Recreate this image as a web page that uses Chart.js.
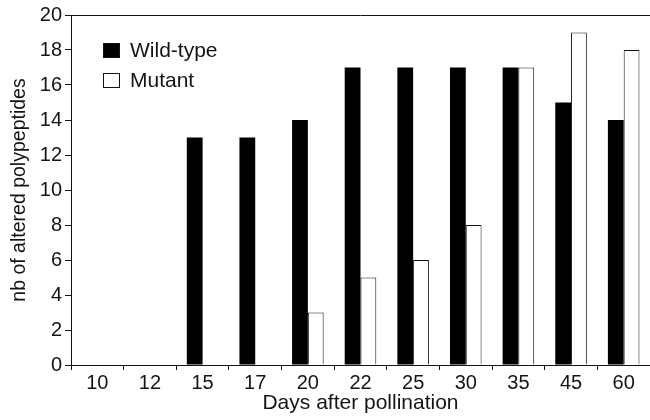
<!DOCTYPE html>
<html>
<head>
<meta charset="utf-8">
<script src="https://cdn.jsdelivr.net/npm/chart.js@4"></script>
<style>
  html, body { margin: 0; padding: 0; background: #fff; }
  #wrap { width: 650px; height: 420px; }
</style>
</head>
<body>
<div id="wrap"><canvas id="myChart" width="650" height="420"></canvas></div>
<script>
// Dias despues de la polinizacion
const days = ['10', '12', '15', '17', '20', '22', '25', '30', '35', '45', '60']
const wildType = [0, 0, 13, 13, 14, 17, 17, 17, 17, 15, 14]
const mutant = [0, 0, 0, 0, 3, 5, 6, 8, 17, 19, 18]
const yTicks = [0, 2, 4, 6, 8, 10, 12, 14, 16, 18, 20]

const ink = '#141414'
const font = "'Liberation Sans', Arial, sans-serif"

// Leyenda dentro del grafico y linea superior
const extras = {
  id: 'extras',
  afterDraw (chart) {
    const { ctx, chartArea } = chart
    ctx.save()
    ctx.strokeStyle = ink
    ctx.lineWidth = 1
    ctx.beginPath()
    ctx.moveTo(chartArea.left, chartArea.top + 0.5)
    ctx.lineTo(chartArea.right, chartArea.top + 0.5)
    ctx.stroke()

    ctx.font = '21px ' + font
    ctx.textBaseline = 'middle'
    chart.data.datasets.forEach((ds, i) => {
      const y = 50 + i * 30
      ctx.fillStyle = ds.backgroundColor
      ctx.fillRect(103, y - 7, 17, 15)
      ctx.strokeStyle = ink
      ctx.strokeRect(103.5, y - 6.5, 16, 14)
      ctx.fillStyle = ink
      ctx.fillText(ds.label, 130, y + 1)
    })
    ctx.restore()
  }
}

const config = {
  type: 'bar',
  data: {
    labels: days,
    datasets: [
      {
        label: 'Wild-type',
        data: wildType,
        backgroundColor: '#000000',
        borderColor: '#000000',
        borderWidth: 0
      },
      {
        label: 'Mutant',
        data: mutant,
        backgroundColor: '#ffffff',
        borderColor: ink,
        borderWidth: 1
      }
    ]
  },
  options: {
    responsive: false,
    animation: false,
    layout: { padding: { top: 15, right: 0, left: 0, bottom: 0 } },
    datasets: {
      bar: { barPercentage: 1, categoryPercentage: 0.6 }
    },
    plugins: {
      legend: { display: false },
      tooltip: { enabled: false }
    },
    scales: {
      x: {
        grid: { display: true, drawOnChartArea: false, drawTicks: true, tickLength: 5, color: ink },
        border: { color: ink, width: 1 },
        ticks: { color: ink, font: { family: font, size: 20 }, padding: 1, maxRotation: 0 },
        title: { display: true, text: 'Days after pollination', color: ink, font: { family: font, size: 21 }, padding: { top: 0, bottom: 4 } },
        afterFit (scale) { scale.height = 55 }
      },
      y: {
        min: 0,
        max: 20,
        afterBuildTicks (scale) { scale.ticks = yTicks.map(v => ({ value: v })) },
        grid: { display: true, drawOnChartArea: false, drawTicks: true, tickLength: 6, color: ink },
        border: { color: ink, width: 1 },
        ticks: { color: ink, font: { family: font, size: 20 }, padding: 3 },
        title: { display: true, text: 'nb of altered polypeptides', color: ink, font: { family: font, size: 19.5 }, padding: { top: 8, bottom: 0 } },
        afterFit (scale) { scale.width = 71 }
      }
    }
  },
  plugins: [extras]
}

const chart = new Chart(document.getElementById('myChart'), config)
</script>
</body>
</html>
